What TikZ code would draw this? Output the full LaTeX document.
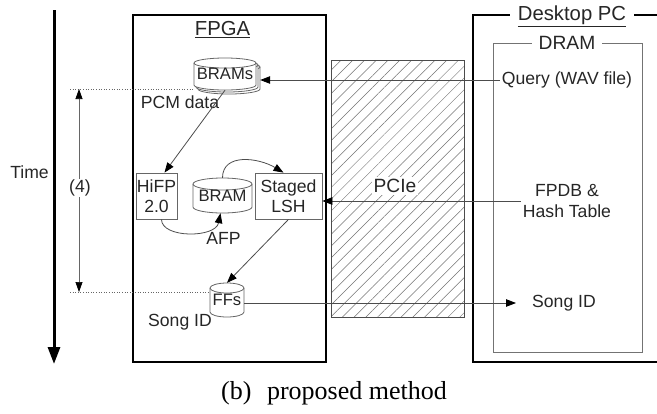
\documentclass[tikz,border=0pt]{standalone}
\usepackage{fontspec}
\setmainfont{Liberation Sans}
\newfontfamily\capfont{Liberation Serif}
\usetikzlibrary{arrows.meta,calc,patterns.meta}

\newcommand\mycyl[5]{%
 \draw[cylline] ({#1-#3/2},{#2+#4/2-#5}) -- ({#1-#3/2},{#2-#4/2+#5})
   arc[start angle=180,end angle=0,x radius={#3*0.5pt},y radius={#5*1pt}]
   -- ({#1+#3/2},{#2+#4/2-#5})
   arc[start angle=0,end angle=-180,x radius={#3*0.5pt},y radius={#5*1pt}] -- cycle;
 \draw[cylline,fill=none] ({#1-#3/2},{#2-#4/2+#5})
   arc[start angle=180,end angle=360,x radius={#3*0.5pt},y radius={#5*1pt}];
}

\tikzset{
 base/.style={font=\fontsize{17.6}{20.5}\selectfont, inner sep=2pt, align=center, text=black!85},
 big/.style={font=\fontsize{20.3}{23}\selectfont, inner sep=2pt, text=black!85},
 mid/.style={font=\fontsize{19.2}{22}\selectfont, inner sep=2pt, text=black!85},
 box/.style={base, draw=black!60, line width=0.8pt, minimum width=41pt, minimum height=46pt, inner sep=0pt},
 cyltext/.style={font=\fontsize{16.6}{19}\selectfont, inner sep=0pt, text=black!85},
 cylline/.style={draw=black!60, line width=0.8pt, fill=white},
 tip/.style={Triangle[length=10pt,width=7.5pt,fill=black,color=black]},
 conn/.style={draw=black!70, line width=0.8pt, -{Triangle[length=10pt,width=7.5pt,fill=black,color=black]}},
 frame/.style={draw=black, line width=2pt},
}

\begin{document}
\begin{tikzpicture}[x=1pt,y=-1pt]
\useasboundingbox (0,0) rectangle (657,413);

% time axis
\coordinate (ttop) at (54,10);
\coordinate (tbot) at (54,364);
\draw[line width=3pt, -{Triangle[length=17pt,width=12pt]}] (ttop) -- (tbot);
\node[base] (time) at (29.5,172) {Time};

% FPGA frame
\draw[frame] (133,15) rectangle (326,362);
\node[big] (fpgat) at (222.5,30) {\underline{FPGA}};

% PCIe
\draw[draw=black!70, line width=0.8pt, pattern={Lines[angle=45,distance=8.3pt,line width=0.5pt]}, pattern color=black!55] (331,60) rectangle (464,317);
\node[mid, fill=white] (pcie) at (395,186) {PCIe};

% Desktop PC
\draw[frame] (473,15) rectangle (680,362);
\node[big, fill=white, inner xsep=8pt] (pct) at (572,16) {\underline{Desktop PC}};
\draw[draw=black!55, line width=0.8pt] (493,43) rectangle (642,352);
\node[mid, fill=white, inner xsep=7pt] (dramt) at (567,43) {DRAM};

\node[base] (query) at (567,80) {Query (WAV file)};
\node[base] (fpdb) at (567,201) {FPDB \&\\Hash Table};
\node[base] (songr) at (564,303) {Song ID};

% cylinders
\mycyl{229}{78}{62}{32}{5}
\mycyl{227}{76}{62}{32}{5}
\mycyl{225}{74}{62}{32}{5}
\node[cyltext, minimum width=62pt, minimum height=32pt] (brams) at (225,74) {\raisebox{-2.5pt}{BRAMs}};

\mycyl{222.5}{195.5}{59}{35}{6}
\node[cyltext, minimum width=59pt, minimum height=35pt] (bram) at (222.5,195.5) {\raisebox{-2.5pt}{BRAM}};

\mycyl{227}{300}{34}{34}{5}
\node[cyltext, minimum width=34pt, minimum height=34pt] (ffs) at (227,300) {\raisebox{-2pt}{FFs}};

% boxes
\node[box] (hifp) at (156.5,196) {HiFP\\2.0};
\node[box, minimum width=67pt] (lsh) at (288.5,196) {Staged\\LSH};

% labels
\node[base] (pcm) at (180,102) {PCM data};
\node[base] (afp) at (223.5,238) {AFP};
\node[base] (songl) at (180,322) {Song ID};

% (4) interval
\coordinate (d1) at (70,89);
\coordinate (d2) at (70,292);
\coordinate (t1) at (79,89);
\coordinate (t2) at (79,292);
\draw[black!60, line width=0.6pt, dotted] (d1) -- (d1 -| brams.west);
\draw[black!60, line width=0.6pt, dotted] (d2) -- (d2 -| ffs.west);
\draw[draw=black!60, line width=0.7pt, {Triangle[length=10pt,width=7pt,fill=black,color=black]}-{Triangle[length=10pt,width=7pt,fill=black,color=black]}] (t1) -- (t2);
\node[base, fill=white, inner sep=1pt] (four) at (80,188) {(4)};

% connectors
\draw[conn] (query.west) -- ([xshift=4pt]query.west -| brams.east);
\draw[conn] (fpdb.west) -- (fpdb.west -| lsh.east);
\draw[conn] (songr.west -| ffs.east) -- ([xshift=-14pt]songr.west);
\draw[conn] (brams.south) -- ([xshift=8pt]hifp.north);
\draw[conn] (lsh.south) -- (ffs.north);
\draw[conn] (bram.north) .. controls +(0,-25) and +(-25,-15) .. ([xshift=-5pt]lsh.north);
\draw[conn] ([xshift=5pt]hifp.south) .. controls +(0,19) and +(-5,25) .. ([xshift=-2pt]bram.south);

% caption
\node[font=\capfont\fontsize{26}{29}\selectfont, text=black, inner sep=0pt] (cap) at (334,393) {(b)\hspace{0.6em}proposed method};
\end{tikzpicture}
\end{document}
